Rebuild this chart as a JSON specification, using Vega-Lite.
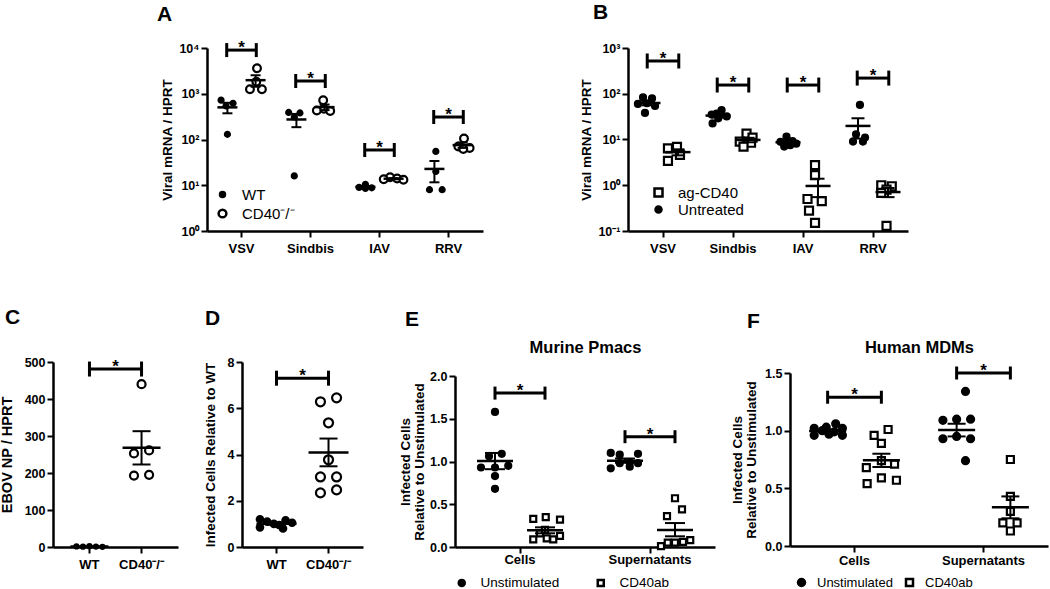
{
"$schema": "https://vega.github.io/schema/vega-lite/v6.json",
"autosize": {"type": "none"},
"padding": {"left": 53, "top": 48, "right": 997, "bottom": 541},
"background": "white",
"config": {
  "font": "Liberation Sans",
  "view": {"stroke": null},
  "mark": {"color": "black"},
  "axis": {"domainColor": "black", "domainWidth": 2.5, "tickColor": "black", "tickWidth": 2, "tickSize": 6, "labelColor": "black", "labelFont": "Liberation Sans", "labelFontSize": 12.5, "labelFontWeight": "bold", "titleColor": "black", "titleFont": "Liberation Sans", "titleFontSize": 13.5, "titleFontWeight": "bold", "grid": false, "labelOverlap": false},
  "axisX": {"labelAngle": 0, "labelPadding": 5, "labelFontSize": 13},
  "axisY": {"labelPadding": 2, "titlePadding": 4, "labelOverlap": false},
  "legend": {"labelFont": "Liberation Sans", "labelFontSize": 15, "labelColor": "black", "symbolStrokeColor": "black", "symbolStrokeWidth": 2.5, "labelOffset": 12, "rowPadding": 1, "columnPadding": 32, "padding": 0},
  "title": {"font": "Liberation Sans", "fontSize": 21, "fontWeight": "bold", "color": "black", "anchor": "start", "frame": "group", "baseline": "alphabetic"},
  "text": {"color": "black", "font": "Liberation Sans"}
},
"datasets": {
  "aPts": [
    {"c":"VSV","g":"WT","o":-1.45,"y":725},{"c":"VSV","g":"WT","o":-0.6,"y":620},{"c":"VSV","g":"WT","o":-1.1,"y":540},{"c":"VSV","g":"WT","o":-1.0,"y":130},
    {"c":"VSV","g":"CD40⁻/⁻","o":1.1,"y":3600},{"c":"VSV","g":"CD40⁻/⁻","o":1.05,"y":1830},{"c":"VSV","g":"CD40⁻/⁻","o":0.6,"y":1250},{"c":"VSV","g":"CD40⁻/⁻","o":1.45,"y":1250},
    {"c":"Sindbis","g":"WT","o":-1.55,"y":390},{"c":"Sindbis","g":"WT","o":-0.75,"y":380},{"c":"Sindbis","g":"WT","o":-1.15,"y":310},{"c":"Sindbis","g":"WT","o":-1.15,"y":16},
    {"c":"Sindbis","g":"CD40⁻/⁻","o":0.9,"y":720},{"c":"Sindbis","g":"CD40⁻/⁻","o":0.95,"y":470},{"c":"Sindbis","g":"CD40⁻/⁻","o":0.45,"y":430},{"c":"Sindbis","g":"CD40⁻/⁻","o":1.4,"y":420},
    {"c":"IAV","g":"WT","o":-1.0,"y":10.5},{"c":"IAV","g":"WT","o":-1.45,"y":9},{"c":"IAV","g":"WT","o":-0.55,"y":8.8},{"c":"IAV","g":"WT","o":-1.0,"y":8.5},
    {"c":"IAV","g":"CD40⁻/⁻","o":0.75,"y":15},{"c":"IAV","g":"CD40⁻/⁻","o":1.25,"y":14},{"c":"IAV","g":"CD40⁻/⁻","o":0.3,"y":13.5},{"c":"IAV","g":"CD40⁻/⁻","o":1.7,"y":13.2},
    {"c":"RRV","g":"WT","o":-0.9,"y":55},{"c":"RRV","g":"WT","o":-0.9,"y":20},{"c":"RRV","g":"WT","o":-1.35,"y":8},{"c":"RRV","g":"WT","o":-0.45,"y":8},
    {"c":"RRV","g":"CD40⁻/⁻","o":1.1,"y":105},{"c":"RRV","g":"CD40⁻/⁻","o":0.7,"y":70},{"c":"RRV","g":"CD40⁻/⁻","o":1.5,"y":65},{"c":"RRV","g":"CD40⁻/⁻","o":1.05,"y":62}
  ],
  "aSum": [
    {"c":"VSV","g":"WT","o":-1,"m":504,"lo":374,"hi":634},{"c":"VSV","g":"CD40⁻/⁻","o":1,"m":1980,"lo":1424,"hi":2536},
    {"c":"Sindbis","g":"WT","o":-1,"m":274,"lo":186,"hi":362},{"c":"Sindbis","g":"CD40⁻/⁻","o":1,"m":510,"lo":439,"hi":581},
    {"c":"IAV","g":"WT","o":-1,"m":9.2,"lo":8.75,"hi":9.65},{"c":"IAV","g":"CD40⁻/⁻","o":1,"m":13.9,"lo":13.5,"hi":14.3},
    {"c":"RRV","g":"WT","o":-1,"m":22.75,"lo":11.6,"hi":33.9},{"c":"RRV","g":"CD40⁻/⁻","o":1,"m":75.5,"lo":65.5,"hi":85.5}
  ],
  "aBr": [
    {"c":"VSV","o":-1.05,"y":9000},{"c":"VSV","o":1.05,"y":9000},{"c":"Sindbis","o":-1.05,"y":1900},{"c":"Sindbis","o":1.05,"y":1900},
    {"c":"IAV","o":-1.05,"y":59},{"c":"IAV","o":1.05,"y":59},{"c":"RRV","o":-1.05,"y":310},{"c":"RRV","o":1.05,"y":310}
  ],
  "aStar": [{"c":"VSV","o":0,"y":9000},{"c":"Sindbis","o":0,"y":1900},{"c":"IAV","o":0,"y":59},{"c":"RRV","o":0,"y":310}],
  "bPts": [
    {"c":"VSV","g":"Untreated","o":-1.33,"y":83},{"c":"VSV","g":"Untreated","o":-0.73,"y":79},{"c":"VSV","g":"Untreated","o":-1.67,"y":60},{"c":"VSV","g":"Untreated","o":-1.07,"y":62},{"c":"VSV","g":"Untreated","o":-0.53,"y":54},{"c":"VSV","g":"Untreated","o":-1.2,"y":38},
    {"c":"VSV","g":"ag-CD40","o":0.33,"y":6.4},{"c":"VSV","g":"ag-CD40","o":0.93,"y":6.9},{"c":"VSV","g":"ag-CD40","o":0.33,"y":3.4},{"c":"VSV","g":"ag-CD40","o":1.13,"y":4.6},
    {"c":"Sindbis","g":"Untreated","o":-1.09,"y":37},{"c":"Sindbis","g":"Untreated","o":-0.76,"y":44},{"c":"Sindbis","g":"Untreated","o":-1.42,"y":35},{"c":"Sindbis","g":"Untreated","o":-0.42,"y":32},{"c":"Sindbis","g":"Untreated","o":-0.98,"y":29},{"c":"Sindbis","g":"Untreated","o":-1.36,"y":22.5},
    {"c":"Sindbis","g":"ag-CD40","o":0.9,"y":13.5},{"c":"Sindbis","g":"ag-CD40","o":1.3,"y":11},{"c":"Sindbis","g":"ag-CD40","o":0.45,"y":9},{"c":"Sindbis","g":"ag-CD40","o":1.2,"y":8.5},{"c":"Sindbis","g":"ag-CD40","o":0.7,"y":7},
    {"c":"IAV","g":"Untreated","o":-1.5,"y":8.9},{"c":"IAV","g":"Untreated","o":-1.1,"y":11.5},{"c":"IAV","g":"Untreated","o":-0.7,"y":9.2},{"c":"IAV","g":"Untreated","o":-0.45,"y":8.1},{"c":"IAV","g":"Untreated","o":-1.25,"y":7},{"c":"IAV","g":"Untreated","o":-0.85,"y":7.5},
    {"c":"IAV","g":"ag-CD40","o":0.8,"y":2.75},{"c":"IAV","g":"ag-CD40","o":0.8,"y":1.66},{"c":"IAV","g":"ag-CD40","o":0.3,"y":0.5},{"c":"IAV","g":"ag-CD40","o":1.25,"y":0.45},{"c":"IAV","g":"ag-CD40","o":0.4,"y":0.28},{"c":"IAV","g":"ag-CD40","o":0.8,"y":0.15},
    {"c":"RRV","g":"Untreated","o":-0.87,"y":57},{"c":"RRV","g":"Untreated","o":-1.13,"y":13},{"c":"RRV","g":"Untreated","o":-0.53,"y":11},{"c":"RRV","g":"Untreated","o":-1.33,"y":9},{"c":"RRV","g":"Untreated","o":-0.67,"y":9},
    {"c":"RRV","g":"ag-CD40","o":0.55,"y":1.0},{"c":"RRV","g":"ag-CD40","o":1.25,"y":0.95},{"c":"RRV","g":"ag-CD40","o":0.9,"y":0.8},{"c":"RRV","g":"ag-CD40","o":0.55,"y":0.68},{"c":"RRV","g":"ag-CD40","o":0.9,"y":0.13}
  ],
  "bSum": [
    {"c":"VSV","g":"Untreated","o":-1,"m":62.7,"lo":56,"hi":69.5},{"c":"VSV","g":"ag-CD40","o":1,"m":5.3,"lo":4.5,"hi":6.1},
    {"c":"Sindbis","g":"Untreated","o":-1,"m":33.3,"lo":30.3,"hi":36.2},{"c":"Sindbis","g":"ag-CD40","o":1,"m":9.8,"lo":8.7,"hi":10.9},
    {"c":"IAV","g":"Untreated","o":-1,"m":8.7,"lo":8.05,"hi":9.35},{"c":"IAV","g":"ag-CD40","o":1,"m":0.965,"lo":0.55,"hi":1.39},
    {"c":"RRV","g":"Untreated","o":-1,"m":19.8,"lo":10.5,"hi":29.1},{"c":"RRV","g":"ag-CD40","o":1,"m":0.71,"lo":0.55,"hi":0.87}
  ],
  "bBr": [
    {"c":"VSV","o":-1.05,"y":520},{"c":"VSV","o":1.05,"y":520},{"c":"Sindbis","o":-1.05,"y":155},{"c":"Sindbis","o":1.05,"y":155},
    {"c":"IAV","o":-1.05,"y":155},{"c":"IAV","o":1.05,"y":155},{"c":"RRV","o":-1.05,"y":220},{"c":"RRV","o":1.05,"y":220}
  ],
  "bStar": [{"c":"VSV","o":0,"y":520},{"c":"Sindbis","o":0,"y":155},{"c":"IAV","o":0,"y":155},{"c":"RRV","o":0,"y":220}],
  "cPts": [
    {"c":"WT","g":"WT","o":-1,"y":1.5},{"c":"WT","g":"WT","o":-0.5,"y":0.8},{"c":"WT","g":"WT","o":0,"y":2.2},{"c":"WT","g":"WT","o":0.5,"y":1.2},{"c":"WT","g":"WT","o":1,"y":0.6},
    {"c":"CD40⁻/⁻","g":"CD40⁻/⁻","o":0,"y":440},{"c":"CD40⁻/⁻","g":"CD40⁻/⁻","o":-0.58,"y":253},{"c":"CD40⁻/⁻","g":"CD40⁻/⁻","o":0.58,"y":261},{"c":"CD40⁻/⁻","g":"CD40⁻/⁻","o":-0.58,"y":193},{"c":"CD40⁻/⁻","g":"CD40⁻/⁻","o":0.58,"y":195}
  ],
  "cSum": [{"c":"WT","o":0,"m":1.26,"lo":0.97,"hi":1.55},{"c":"CD40⁻/⁻","o":0,"m":268,"lo":223,"hi":313}],
  "cBr": [{"c":"WT","o":0,"y":481},{"c":"CD40⁻/⁻","o":0,"y":481}],
  "cStar": [{"c":"WT","o":2,"y":481}],
  "dPts": [
    {"c":"WT","g":"WT","o":-1.27,"y":1.2},{"c":"WT","g":"WT","o":-1.27,"y":0.85},{"c":"WT","g":"WT","o":-0.72,"y":1.1},{"c":"WT","g":"WT","o":-0.2,"y":1.0},{"c":"WT","g":"WT","o":0.2,"y":0.95},{"c":"WT","g":"WT","o":0.5,"y":0.8},{"c":"WT","g":"WT","o":0.7,"y":1.15},{"c":"WT","g":"WT","o":1.2,"y":1.05},
    {"c":"CD40⁻/⁻","g":"CD40⁻/⁻","o":-0.62,"y":6.28},{"c":"CD40⁻/⁻","g":"CD40⁻/⁻","o":0.62,"y":6.45},{"c":"CD40⁻/⁻","g":"CD40⁻/⁻","o":0,"y":5.37},{"c":"CD40⁻/⁻","g":"CD40⁻/⁻","o":0,"y":3.77},{"c":"CD40⁻/⁻","g":"CD40⁻/⁻","o":-0.62,"y":3.03},{"c":"CD40⁻/⁻","g":"CD40⁻/⁻","o":0.62,"y":3.03},{"c":"CD40⁻/⁻","g":"CD40⁻/⁻","o":-0.62,"y":2.34},{"c":"CD40⁻/⁻","g":"CD40⁻/⁻","o":0.62,"y":2.47}
  ],
  "dSum": [{"c":"WT","o":0,"m":1.01,"lo":0.96,"hi":1.06},{"c":"CD40⁻/⁻","o":0,"m":4.09,"lo":3.49,"hi":4.69}],
  "dBr": [{"c":"WT","o":0,"y":7.3},{"c":"CD40⁻/⁻","o":0,"y":7.3}],
  "dStar": [{"c":"WT","o":2,"y":7.3}],
  "ePts": [
    {"c":"Cells","g":"Unstimulated","o":-1.0,"y":1.58},{"c":"Cells","g":"Unstimulated","o":-1.24,"y":1.06},{"c":"Cells","g":"Unstimulated","o":-0.73,"y":1.09},{"c":"Cells","g":"Unstimulated","o":-1.56,"y":0.93},{"c":"Cells","g":"Unstimulated","o":-0.47,"y":0.95},{"c":"Cells","g":"Unstimulated","o":-1.0,"y":0.93},{"c":"Cells","g":"Unstimulated","o":-1.0,"y":0.83},{"c":"Cells","g":"Unstimulated","o":-1.0,"y":0.68},
    {"c":"Cells","g":"CD40ab","o":0.53,"y":0.33},{"c":"Cells","g":"CD40ab","o":1.03,"y":0.35},{"c":"Cells","g":"CD40ab","o":1.6,"y":0.32},{"c":"Cells","g":"CD40ab","o":0.53,"y":0.09},{"c":"Cells","g":"CD40ab","o":0.8,"y":0.16},{"c":"Cells","g":"CD40ab","o":1.07,"y":0.1},{"c":"Cells","g":"CD40ab","o":1.33,"y":0.09},{"c":"Cells","g":"CD40ab","o":1.6,"y":0.13},{"c":"Cells","g":"CD40ab","o":1.0,"y":0.2},
    {"c":"Supernatants","g":"Unstimulated","o":-1.57,"y":1.1},{"c":"Supernatants","g":"Unstimulated","o":-1.21,"y":1.08},{"c":"Supernatants","g":"Unstimulated","o":-0.48,"y":1.09},{"c":"Supernatants","g":"Unstimulated","o":-1.57,"y":0.92},{"c":"Supernatants","g":"Unstimulated","o":-1.21,"y":0.98},{"c":"Supernatants","g":"Unstimulated","o":-0.81,"y":0.99},{"c":"Supernatants","g":"Unstimulated","o":-0.81,"y":0.94},{"c":"Supernatants","g":"Unstimulated","o":-0.48,"y":0.98},
    {"c":"Supernatants","g":"CD40ab","o":1.0,"y":0.57},{"c":"Supernatants","g":"CD40ab","o":0.68,"y":0.36},{"c":"Supernatants","g":"CD40ab","o":1.28,"y":0.44},{"c":"Supernatants","g":"CD40ab","o":0.44,"y":0.01},{"c":"Supernatants","g":"CD40ab","o":0.71,"y":0.05},{"c":"Supernatants","g":"CD40ab","o":1.0,"y":0.05},{"c":"Supernatants","g":"CD40ab","o":1.32,"y":0.06},{"c":"Supernatants","g":"CD40ab","o":1.61,"y":0.08}
  ],
  "eSum": [
    {"c":"Cells","g":"Unstimulated","o":-1,"m":1.006,"lo":0.91,"hi":1.1},{"c":"Cells","g":"CD40ab","o":1,"m":0.197,"lo":0.16,"hi":0.23},
    {"c":"Supernatants","g":"Unstimulated","o":-1,"m":1.01,"lo":0.985,"hi":1.035},{"c":"Supernatants","g":"CD40ab","o":1,"m":0.2,"lo":0.125,"hi":0.28}
  ],
  "eBr": [{"c":"Cells","o":-1,"y":1.8},{"c":"Cells","o":1,"y":1.8},{"c":"Supernatants","o":-1,"y":1.29},{"c":"Supernatants","o":1,"y":1.29}],
  "eStar": [{"c":"Cells","o":0,"y":1.8},{"c":"Supernatants","o":0,"y":1.29}],
  "fPts": [
    {"c":"Cells","g":"Unstimulated","o":-1.5,"y":1.02},{"c":"Cells","g":"Unstimulated","o":-1.5,"y":0.96},{"c":"Cells","g":"Unstimulated","o":-1.2,"y":1.0},{"c":"Cells","g":"Unstimulated","o":-0.95,"y":0.97},{"c":"Cells","g":"Unstimulated","o":-1.05,"y":1.03},{"c":"Cells","g":"Unstimulated","o":-0.7,"y":1.06},{"c":"Cells","g":"Unstimulated","o":-0.75,"y":0.99},{"c":"Cells","g":"Unstimulated","o":-0.45,"y":1.02},{"c":"Cells","g":"Unstimulated","o":-0.45,"y":0.96},
    {"c":"Cells","g":"CD40ab","o":1.25,"y":1.01},{"c":"Cells","g":"CD40ab","o":0.73,"y":0.96},{"c":"Cells","g":"CD40ab","o":1.0,"y":0.89},{"c":"Cells","g":"CD40ab","o":1.0,"y":0.74},{"c":"Cells","g":"CD40ab","o":1.49,"y":0.71},{"c":"Cells","g":"CD40ab","o":0.44,"y":0.68},{"c":"Cells","g":"CD40ab","o":0.47,"y":0.54},{"c":"Cells","g":"CD40ab","o":1.0,"y":0.59},{"c":"Cells","g":"CD40ab","o":1.56,"y":0.57},
    {"c":"Supernatants","g":"Unstimulated","o":-0.67,"y":1.34},{"c":"Supernatants","g":"Unstimulated","o":-1.51,"y":1.09},{"c":"Supernatants","g":"Unstimulated","o":-1.0,"y":1.1},{"c":"Supernatants","g":"Unstimulated","o":-0.48,"y":1.1},{"c":"Supernatants","g":"Unstimulated","o":-1.51,"y":0.93},{"c":"Supernatants","g":"Unstimulated","o":-1.0,"y":0.95},{"c":"Supernatants","g":"Unstimulated","o":-0.48,"y":0.93},{"c":"Supernatants","g":"Unstimulated","o":-0.67,"y":0.74},
    {"c":"Supernatants","g":"CD40ab","o":1.0,"y":0.75},{"c":"Supernatants","g":"CD40ab","o":1.0,"y":0.43},{"c":"Supernatants","g":"CD40ab","o":1.0,"y":0.3},{"c":"Supernatants","g":"CD40ab","o":0.72,"y":0.2},{"c":"Supernatants","g":"CD40ab","o":1.25,"y":0.2},{"c":"Supernatants","g":"CD40ab","o":1.0,"y":0.13}
  ],
  "fSum": [
    {"c":"Cells","g":"Unstimulated","o":-1,"m":0.998,"lo":0.985,"hi":1.011},{"c":"Cells","g":"CD40ab","o":1,"m":0.743,"lo":0.685,"hi":0.8},
    {"c":"Supernatants","g":"Unstimulated","o":-1,"m":1.006,"lo":0.95,"hi":1.06},{"c":"Supernatants","g":"CD40ab","o":1,"m":0.335,"lo":0.24,"hi":0.43}
  ],
  "fBr": [{"c":"Cells","o":-1,"y":1.29},{"c":"Cells","o":1,"y":1.29},{"c":"Supernatants","o":-1,"y":1.5},{"c":"Supernatants","o":1,"y":1.5}],
  "fStar": [{"c":"Cells","o":0,"y":1.29},{"c":"Supernatants","o":0,"y":1.5}]
},
"spacing": 314,
"bounds": "flush",
"resolve": {"scale": {"fill": "independent", "stroke": "independent", "shape": "independent", "size": "independent", "xOffset": "independent"}},
"vconcat": [
 {
  "spacing": 0,
  "bounds": "flush",
  "resolve": {"scale": {"fill": "independent", "stroke": "independent", "shape": "independent", "size": "independent", "xOffset": "independent"}},
  "hconcat": [
  {"width": 154, "height": 1, "data": {"values": [{"s": 1}]}, "mark": {"type": "point", "opacity": 0}, "encoding": {}},
  {
    "width": 276, "height": 183,
    "title": {"text": "A", "dx": -50, "offset": 14},
    "encoding": {
      "x": {"field": "c", "type": "nominal", "sort": null, "scale": {"domain": ["VSV","Sindbis","IAV","RRV"], "paddingInner": 0, "paddingOuter": 0}, "axis": {"title": null}},
      "xOffset": {"field": "o", "type": "quantitative", "scale": {"domain": [-2.45, 2.45], "nice": false, "zero": false}}
    },
    "layer": [
      {"data": {"name": "aPts"}, "mark": {"type": "point", "filled": false, "strokeWidth": 2.2, "opacity": 1},
       "encoding": {
         "y": {"field": "y", "type": "quantitative", "scale": {"type": "log", "domain": [1, 10000], "nice": false}, "axis": {"values": [1,10,100,1000,10000], "labelExpr": "'10' + ['⁰','¹','²','³','⁴'][round(log(datum.value)/LN10)]", "title": "Viral mRNA / HPRT"}},
         "fill": {"field": "g", "type": "nominal", "scale": {"domain": ["WT","CD40⁻/⁻"], "range": ["black","white"]}, "legend": {"orient": "bottom-left", "offset": 8, "title": null, "symbolStrokeWidth": 2.5}},
         "stroke": {"field": "g", "type": "nominal", "scale": {"domain": ["WT","CD40⁻/⁻"], "range": ["black","black"]}, "legend": {"orient": "bottom-left", "offset": 8, "title": null, "symbolStrokeWidth": 2.5}},
         "shape": {"field": "g", "type": "nominal", "scale": {"domain": ["WT","CD40⁻/⁻"], "range": ["circle","circle"]}, "legend": {"orient": "bottom-left", "offset": 8, "title": null, "symbolStrokeWidth": 2.5}},
         "size": {"field": "g", "type": "nominal", "scale": {"domain": ["WT","CD40⁻/⁻"], "range": [25, 60]}, "legend": {"orient": "bottom-left", "offset": 8, "title": null, "symbolStrokeWidth": 2.5}}
       }},
      {"data": {"name": "aSum"}, "mark": {"type": "rule", "strokeWidth": 2}, "encoding": {"y": {"field": "lo", "type": "quantitative"}, "y2": {"field": "hi"}}},
      {"data": {"name": "aSum"}, "mark": {"type": "tick", "orient": "horizontal", "size": 20, "thickness": 2.5, "opacity": 1}, "encoding": {"y": {"field": "m", "type": "quantitative"}}},
      {"data": {"name": "aSum"}, "mark": {"type": "tick", "orient": "horizontal", "size": 10, "thickness": 2, "opacity": 1}, "encoding": {"y": {"field": "lo", "type": "quantitative"}}},
      {"data": {"name": "aSum"}, "mark": {"type": "tick", "orient": "horizontal", "size": 10, "thickness": 2, "opacity": 1}, "encoding": {"y": {"field": "hi", "type": "quantitative"}}},
      {"data": {"name": "aBr"}, "mark": {"type": "line", "strokeWidth": 3}, "encoding": {"y": {"field": "y", "type": "quantitative"}, "detail": {"field": "c", "type": "nominal"}}},
      {"data": {"name": "aBr"}, "mark": {"type": "tick", "orient": "vertical", "size": 14, "thickness": 3, "opacity": 1}, "encoding": {"y": {"field": "y", "type": "quantitative"}}},
      {"data": {"name": "aStar"}, "mark": {"type": "text", "text": "*", "fontSize": 17, "fontWeight": "bold", "baseline": "alphabetic", "dy": 3}, "encoding": {"y": {"field": "y", "type": "quantitative"}}}
    ]
  },
  {"width": 145, "height": 1, "data": {"values": [{"s": 1}]}, "mark": {"type": "point", "opacity": 0}, "encoding": {}},
  {
    "width": 280, "height": 183,
    "title": {"text": "B", "dx": -35, "offset": 19},
    "encoding": {
      "x": {"field": "c", "type": "nominal", "sort": null, "scale": {"domain": ["VSV","Sindbis","IAV","RRV"], "paddingInner": 0, "paddingOuter": 0}, "axis": {"title": null}},
      "xOffset": {"field": "o", "type": "quantitative", "scale": {"domain": [-2.33, 2.33], "nice": false, "zero": false}}
    },
    "layer": [
      {"data": {"name": "bPts"}, "mark": {"type": "point", "filled": false, "strokeWidth": 2.2, "opacity": 1},
       "encoding": {
         "y": {"field": "y", "type": "quantitative", "scale": {"type": "log", "domain": [0.1, 1000], "nice": false}, "axis": {"values": [0.1,1,10,100,1000], "labelExpr": "'10' + ['⁻¹','⁰','¹','²','³'][round(log(datum.value)/LN10)+1]", "title": "Viral mRNA / HPRT"}},
         "fill": {"field": "g", "type": "nominal", "scale": {"domain": ["ag-CD40","Untreated"], "range": ["white","black"]}, "legend": {"orient": "bottom-left", "offset": 13, "title": null, "rowPadding": -3, "symbolOffset": 10, "symbolStrokeWidth": 2.5}},
         "stroke": {"field": "g", "type": "nominal", "scale": {"domain": ["ag-CD40","Untreated"], "range": ["black","black"]}, "legend": {"orient": "bottom-left", "offset": 13, "title": null, "rowPadding": -3, "symbolOffset": 10, "symbolStrokeWidth": 2.5}},
         "shape": {"field": "g", "type": "nominal", "scale": {"domain": ["ag-CD40","Untreated"], "range": ["square","circle"]}, "legend": {"orient": "bottom-left", "offset": 13, "title": null, "rowPadding": -3, "symbolOffset": 10, "symbolStrokeWidth": 2.5}},
         "size": {"field": "g", "type": "nominal", "scale": {"domain": ["ag-CD40","Untreated"], "range": [64, 36]}, "legend": {"orient": "bottom-left", "offset": 13, "title": null, "rowPadding": -3, "symbolOffset": 10, "symbolStrokeWidth": 2.5}}
       }},
      {"data": {"name": "bSum"}, "mark": {"type": "rule", "strokeWidth": 2}, "encoding": {"y": {"field": "lo", "type": "quantitative"}, "y2": {"field": "hi"}}},
      {"data": {"name": "bSum"}, "mark": {"type": "tick", "orient": "horizontal", "size": 25, "thickness": 2.5, "opacity": 1}, "encoding": {"y": {"field": "m", "type": "quantitative"}}},
      {"data": {"name": "bSum"}, "mark": {"type": "tick", "orient": "horizontal", "size": 13, "thickness": 2, "opacity": 1}, "encoding": {"y": {"field": "lo", "type": "quantitative"}}},
      {"data": {"name": "bSum"}, "mark": {"type": "tick", "orient": "horizontal", "size": 13, "thickness": 2, "opacity": 1}, "encoding": {"y": {"field": "hi", "type": "quantitative"}}},
      {"data": {"name": "bBr"}, "mark": {"type": "line", "strokeWidth": 3}, "encoding": {"y": {"field": "y", "type": "quantitative"}, "detail": {"field": "c", "type": "nominal"}}},
      {"data": {"name": "bBr"}, "mark": {"type": "tick", "orient": "vertical", "size": 15, "thickness": 3, "opacity": 1}, "encoding": {"y": {"field": "y", "type": "quantitative"}}},
      {"data": {"name": "bStar"}, "mark": {"type": "text", "text": "*", "fontSize": 17, "fontWeight": "bold", "baseline": "alphabetic", "dy": 3}, "encoding": {"y": {"field": "y", "type": "quantitative"}}}
    ]
  }
  ]
 },
 {
  "spacing": 0,
  "bounds": "flush",
  "resolve": {"scale": {"fill": "independent", "stroke": "independent", "shape": "independent", "size": "independent", "xOffset": "independent"}},
  "hconcat": [
  {
    "width": 125, "height": 185,
    "title": {"text": "C", "dx": -48, "offset": 28},
    "encoding": {
      "x": {"field": "c", "type": "nominal", "sort": null, "scale": {"domain": ["WT","CD40⁻/⁻"], "paddingInner": 0, "paddingOuter": 0.2}, "axis": {"title": null}},
      "xOffset": {"field": "o", "type": "quantitative", "scale": {"domain": [-2, 2], "nice": false, "zero": false}}
    },
    "layer": [
      {"data": {"name": "cPts"}, "mark": {"type": "point", "filled": false, "stroke": "black", "strokeWidth": 2.2, "opacity": 1},
       "encoding": {
         "y": {"field": "y", "type": "quantitative", "scale": {"domain": [0, 500], "nice": false}, "axis": {"values": [0,100,200,300,400,500], "tickCount": 6, "labelOverlap": false, "labelSeparation": 0, "title": "EBOV NP / HPRT", "titleFontSize": 14.5, "titlePadding": 10}},
         "fill": {"field": "g", "type": "nominal", "scale": {"domain": ["WT","CD40⁻/⁻"], "range": ["black","white"]}, "legend": null},
         "size": {"field": "g", "type": "nominal", "scale": {"domain": ["WT","CD40⁻/⁻"], "range": [16, 64]}, "legend": null}
       }},
      {"data": {"name": "cSum"}, "mark": {"type": "rule", "strokeWidth": 2}, "encoding": {"y": {"field": "lo", "type": "quantitative"}, "y2": {"field": "hi"}}},
      {"data": {"name": "cSum"}, "mark": {"type": "tick", "orient": "horizontal", "size": 38, "thickness": 2.5, "opacity": 1}, "encoding": {"y": {"field": "m", "type": "quantitative"}}},
      {"data": {"name": "cSum"}, "mark": {"type": "tick", "orient": "horizontal", "size": 18, "thickness": 2, "opacity": 1}, "encoding": {"y": {"field": "lo", "type": "quantitative"}}},
      {"data": {"name": "cSum"}, "mark": {"type": "tick", "orient": "horizontal", "size": 18, "thickness": 2, "opacity": 1}, "encoding": {"y": {"field": "hi", "type": "quantitative"}}},
      {"data": {"name": "cBr"}, "mark": {"type": "line", "strokeWidth": 3}, "encoding": {"y": {"field": "y", "type": "quantitative"}}},
      {"data": {"name": "cBr"}, "mark": {"type": "tick", "orient": "vertical", "size": 15, "thickness": 3, "opacity": 1}, "encoding": {"y": {"field": "y", "type": "quantitative"}}},
      {"data": {"name": "cStar"}, "mark": {"type": "text", "text": "*", "fontSize": 17, "fontWeight": "bold", "baseline": "alphabetic", "dy": 3}, "encoding": {"y": {"field": "y", "type": "quantitative"}}}
    ]
  },
  {"width": 64, "height": 1, "data": {"values": [{"s": 1}]}, "mark": {"type": "point", "opacity": 0}, "encoding": {}},
  {
    "width": 121, "height": 185,
    "title": {"text": "D", "dx": -37, "offset": 27},
    "encoding": {
      "x": {"field": "c", "type": "nominal", "sort": null, "scale": {"domain": ["WT","CD40⁻/⁻"], "paddingInner": 0, "paddingOuter": 0.163}, "axis": {"title": null}},
      "xOffset": {"field": "o", "type": "quantitative", "scale": {"domain": [-2, 2], "nice": false, "zero": false}}
    },
    "layer": [
      {"data": {"name": "dPts"}, "mark": {"type": "point", "filled": false, "stroke": "black", "strokeWidth": 2.2, "opacity": 1},
       "encoding": {
         "y": {"field": "y", "type": "quantitative", "scale": {"domain": [0, 8], "nice": false}, "axis": {"values": [0,2,4,6,8], "title": "Infected Cells Relative to WT", "titlePadding": 10}},
         "fill": {"field": "g", "type": "nominal", "scale": {"domain": ["WT","CD40⁻/⁻"], "range": ["black","white"]}, "legend": null},
         "size": {"field": "g", "type": "nominal", "scale": {"domain": ["WT","CD40⁻/⁻"], "range": [42, 81]}, "legend": null}
       }},
      {"data": {"name": "dSum"}, "mark": {"type": "rule", "strokeWidth": 2}, "encoding": {"y": {"field": "lo", "type": "quantitative"}, "y2": {"field": "hi"}}},
      {"data": {"name": "dSum"}, "mark": {"type": "tick", "orient": "horizontal", "size": 40, "thickness": 2.5, "opacity": 1}, "encoding": {"y": {"field": "m", "type": "quantitative"}}},
      {"data": {"name": "dSum"}, "mark": {"type": "tick", "orient": "horizontal", "size": 18, "thickness": 2, "opacity": 1}, "encoding": {"y": {"field": "lo", "type": "quantitative"}}},
      {"data": {"name": "dSum"}, "mark": {"type": "tick", "orient": "horizontal", "size": 18, "thickness": 2, "opacity": 1}, "encoding": {"y": {"field": "hi", "type": "quantitative"}}},
      {"data": {"name": "dBr"}, "mark": {"type": "line", "strokeWidth": 3}, "encoding": {"y": {"field": "y", "type": "quantitative"}}},
      {"data": {"name": "dBr"}, "mark": {"type": "tick", "orient": "vertical", "size": 15, "thickness": 3, "opacity": 1}, "encoding": {"y": {"field": "y", "type": "quantitative"}}},
      {"data": {"name": "dStar"}, "mark": {"type": "text", "text": "*", "fontSize": 17, "fontWeight": "bold", "baseline": "alphabetic", "dy": 3}, "encoding": {"y": {"field": "y", "type": "quantitative"}}}
    ]
  },
  {"width": 92, "height": 1, "data": {"values": [{"s": 1}]}, "mark": {"type": "point", "opacity": 0}, "encoding": {}},
  {
   "spacing": 0,
   "bounds": "flush",
   "resolve": {"scale": {"fill": "independent", "stroke": "independent", "shape": "independent", "size": "independent", "xOffset": "independent"}},
   "vconcat": [
    {"width": 1, "height": 14, "data": {"values": [{"s": 1}]}, "mark": {"type": "point", "opacity": 0}, "encoding": {}},
    {
    "width": 260, "height": 171,
    "title": {"text": "E", "dx": -50, "offset": 9},
    "resolve": {"axis": {"x": "independent"}},
    "layer": [
      {
        "encoding": {
          "x": {"field": "c", "type": "nominal", "sort": null, "scale": {"domain": ["Cells","Supernatants"], "paddingInner": 0, "paddingOuter": 0}, "axis": {"title": null, "labelPadding": 0}},
          "xOffset": {"field": "o", "type": "quantitative", "scale": {"domain": [-2.6, 2.6], "nice": false, "zero": false}}
        },
        "layer": [
          {"data": {"name": "ePts"}, "mark": {"type": "point", "filled": false, "strokeWidth": 2.2, "opacity": 1},
           "encoding": {
             "y": {"field": "y", "type": "quantitative", "scale": {"domain": [0, 2], "nice": false}, "axis": {"values": [0,0.5,1,1.5,2], "format": ".1f", "title": ["Infected Cells", "Relative to Unstimulated"], "titleLineHeight": 14, "titlePadding": 3}},
             "fill": {"field": "g", "type": "nominal", "scale": {"domain": ["Unstimulated","CD40ab"], "range": ["black","white"]}, "legend": {"orient": "bottom", "direction": "horizontal", "offset": 10, "title": null, "labelFontSize": 13.5, "symbolStrokeWidth": 2.5}},
             "stroke": {"field": "g", "type": "nominal", "scale": {"domain": ["Unstimulated","CD40ab"], "range": ["black","black"]}, "legend": {"orient": "bottom", "direction": "horizontal", "offset": 10, "title": null, "labelFontSize": 13.5, "symbolStrokeWidth": 2.5}},
             "shape": {"field": "g", "type": "nominal", "scale": {"domain": ["Unstimulated","CD40ab"], "range": ["circle","square"]}, "legend": {"orient": "bottom", "direction": "horizontal", "offset": 10, "title": null, "labelFontSize": 13.5, "symbolStrokeWidth": 2.5}},
             "size": {"field": "g", "type": "nominal", "scale": {"domain": ["Unstimulated","CD40ab"], "range": [36, 36]}, "legend": {"orient": "bottom", "direction": "horizontal", "offset": 10, "title": null, "labelFontSize": 13.5, "symbolStrokeWidth": 2.5}}
           }},
          {"data": {"name": "eSum"}, "mark": {"type": "rule", "strokeWidth": 2}, "encoding": {"y": {"field": "lo", "type": "quantitative"}, "y2": {"field": "hi"}}},
          {"data": {"name": "eSum"}, "mark": {"type": "tick", "orient": "horizontal", "size": 36, "thickness": 2.5, "opacity": 1}, "encoding": {"y": {"field": "m", "type": "quantitative"}}},
          {"data": {"name": "eSum"}, "mark": {"type": "tick", "orient": "horizontal", "size": 20, "thickness": 2, "opacity": 1}, "encoding": {"y": {"field": "lo", "type": "quantitative"}}},
          {"data": {"name": "eSum"}, "mark": {"type": "tick", "orient": "horizontal", "size": 20, "thickness": 2, "opacity": 1}, "encoding": {"y": {"field": "hi", "type": "quantitative"}}},
          {"data": {"name": "eBr"}, "mark": {"type": "line", "strokeWidth": 3}, "encoding": {"y": {"field": "y", "type": "quantitative"}, "detail": {"field": "c", "type": "nominal"}}},
          {"data": {"name": "eBr"}, "mark": {"type": "tick", "orient": "vertical", "size": 13, "thickness": 3, "opacity": 1}, "encoding": {"y": {"field": "y", "type": "quantitative"}}},
          {"data": {"name": "eStar"}, "mark": {"type": "text", "text": "*", "fontSize": 17, "fontWeight": "bold", "baseline": "alphabetic", "dy": 3}, "encoding": {"y": {"field": "y", "type": "quantitative"}}}
        ]
      },
      {
        "data": {"values": [{"c": "Cells"}]},
        "mark": {"type": "point", "opacity": 0},
        "encoding": {"x": {"field": "c", "type": "nominal", "sort": null, "axis": {"orient": "top", "title": "Murine Pmacs", "labels": false, "ticks": false, "domain": false, "titleFontSize": 16.5, "titlePadding": 21}}}
      }
    ]
    }
   ]
  },
  {"width": 335, "height": 1, "data": {"values": [{"s": 1}]}, "mark": {"type": "point", "opacity": 0}, "encoding": {}},
  {
   "spacing": 0,
   "bounds": "flush",
   "resolve": {"scale": {"fill": "independent", "stroke": "independent", "shape": "independent", "size": "independent", "xOffset": "independent"}},
   "vconcat": [
    {"width": 1, "height": 11, "data": {"values": [{"s": 1}]}, "mark": {"type": "point", "opacity": 0}, "encoding": {}},
    {
    "width": 258, "height": 173,
    "title": {"text": "F", "dx": -43, "offset": 7},
    "resolve": {"axis": {"x": "independent"}},
    "layer": [
      {
        "encoding": {
          "x": {"field": "c", "type": "nominal", "sort": null, "scale": {"domain": ["Cells","Supernatants"], "paddingInner": 0, "paddingOuter": 0}, "axis": {"title": null, "labelPadding": 2}},
          "xOffset": {"field": "o", "type": "quantitative", "scale": {"domain": [-2.4, 2.4], "nice": false, "zero": false}}
        },
        "layer": [
          {"data": {"name": "fPts"}, "mark": {"type": "point", "filled": false, "strokeWidth": 2.2, "opacity": 1},
           "encoding": {
             "y": {"field": "y", "type": "quantitative", "scale": {"domain": [0, 1.5], "nice": false}, "axis": {"values": [0,0.5,1,1.5], "format": ".1f", "title": ["Infected Cells", "Relative to Unstimulated"], "titleLineHeight": 14, "titlePadding": 6}},
             "fill": {"field": "g", "type": "nominal", "scale": {"domain": ["Unstimulated","CD40ab"], "range": ["black","white"]}, "legend": {"orient": "bottom", "direction": "horizontal", "offset": 4, "padding": 5, "title": null, "labelFontSize": 13, "labelOffset": 9, "columnPadding": 8, "symbolStrokeWidth": 2.5}},
             "stroke": {"field": "g", "type": "nominal", "scale": {"domain": ["Unstimulated","CD40ab"], "range": ["black","black"]}, "legend": {"orient": "bottom", "direction": "horizontal", "offset": 4, "padding": 5, "title": null, "labelFontSize": 13, "labelOffset": 9, "columnPadding": 8, "symbolStrokeWidth": 2.5}},
             "shape": {"field": "g", "type": "nominal", "scale": {"domain": ["Unstimulated","CD40ab"], "range": ["circle","square"]}, "legend": {"orient": "bottom", "direction": "horizontal", "offset": 4, "padding": 5, "title": null, "labelFontSize": 13, "labelOffset": 9, "columnPadding": 8, "symbolStrokeWidth": 2.5}},
             "size": {"field": "g", "type": "nominal", "scale": {"domain": ["Unstimulated","CD40ab"], "range": [49, 49]}, "legend": {"orient": "bottom", "direction": "horizontal", "offset": 4, "padding": 5, "title": null, "labelFontSize": 13, "labelOffset": 9, "columnPadding": 8, "symbolStrokeWidth": 2.5}}
           }},
          {"data": {"name": "fSum"}, "mark": {"type": "rule", "strokeWidth": 2}, "encoding": {"y": {"field": "lo", "type": "quantitative"}, "y2": {"field": "hi"}}},
          {"data": {"name": "fSum"}, "mark": {"type": "tick", "orient": "horizontal", "size": 37, "thickness": 2.5, "opacity": 1}, "encoding": {"y": {"field": "m", "type": "quantitative"}}},
          {"data": {"name": "fSum"}, "mark": {"type": "tick", "orient": "horizontal", "size": 18, "thickness": 2, "opacity": 1}, "encoding": {"y": {"field": "lo", "type": "quantitative"}}},
          {"data": {"name": "fSum"}, "mark": {"type": "tick", "orient": "horizontal", "size": 18, "thickness": 2, "opacity": 1}, "encoding": {"y": {"field": "hi", "type": "quantitative"}}},
          {"data": {"name": "fBr"}, "mark": {"type": "line", "strokeWidth": 3}, "encoding": {"y": {"field": "y", "type": "quantitative"}, "detail": {"field": "c", "type": "nominal"}}},
          {"data": {"name": "fBr"}, "mark": {"type": "tick", "orient": "vertical", "size": 13, "thickness": 3, "opacity": 1}, "encoding": {"y": {"field": "y", "type": "quantitative"}}},
          {"data": {"name": "fStar"}, "mark": {"type": "text", "text": "*", "fontSize": 17, "fontWeight": "bold", "baseline": "alphabetic", "dy": 3}, "encoding": {"y": {"field": "y", "type": "quantitative"}}}
        ]
      },
      {
        "data": {"values": [{"c": "Cells"}]},
        "mark": {"type": "point", "opacity": 0},
        "encoding": {"x": {"field": "c", "type": "nominal", "sort": null, "axis": {"orient": "top", "title": "Human MDMs", "labels": false, "ticks": false, "domain": false, "titleFontSize": 16.5, "titlePadding": 18}}}
      }
    ]
    }
   ]
  }
  ]
 }
]
}
